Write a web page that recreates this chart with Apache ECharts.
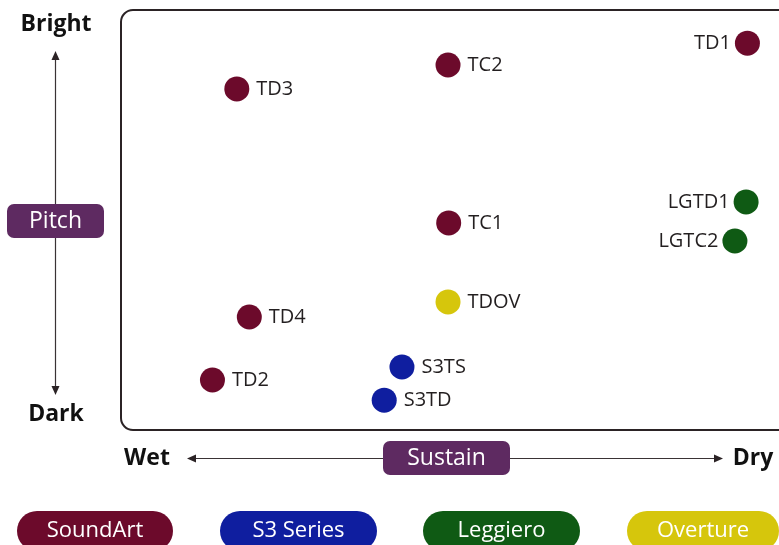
<!DOCTYPE html>
<html><head><meta charset="utf-8">
<script src="https://cdn.jsdelivr.net/npm/echarts@6/dist/echarts.min.js"></script>
<style>html,body{margin:0;padding:0;background:#fff}#c{width:779px;height:545px}</style>
</head><body><div id="c"></div>
<script>
// Brands (series) and colours
const brands = ['SoundArt', 'S3 Series', 'Leggiero', 'Overture'];
const brandColors = ['#6c0a2b', '#0f1e9f', '#0f5a14', '#d6c60c'];
// Models: name, sustain (0 wet .. 100 dry), pitch (0 dark .. 100 bright)
const soundArtNames = ['TD1', 'TC2', 'TD3', 'TC1', 'TD4', 'TD2'];
const soundArtSustain = [95.2, 49.7, 17.6, 49.8, 19.5, 13.9];
const soundArtPitch = [92.1, 86.9, 81.2, 49.3, 26.9, 11.9];
const s3Names = ['S3TS', 'S3TD'];
const s3Sustain = [42.7, 40.0];
const s3Pitch = [15.0, 7.1];
const leggieroNames = ['LGTD1', 'LGTC2'];
const leggieroSustain = [95.0, 93.3];
const leggieroPitch = [54.3, 45.0];
const overtureNames = ['TDOV'];
const overtureSustain = [49.7];
const overturePitch = [30.5];
// labels drawn on the left of the point
const leftLabels = ['TD1', 'LGTD1', 'LGTC2'];
// axis texts
const yTop = 'Bright', yBottom = 'Dark', yTitle = 'Pitch';
const xLeft = 'Wet', xRight = 'Dry', xTitle = 'Sustain';

const groups = [
  [soundArtNames, soundArtSustain, soundArtPitch],
  [s3Names, s3Sustain, s3Pitch],
  [leggieroNames, leggieroSustain, leggieroPitch],
  [overtureNames, overtureSustain, overturePitch]
];
const FONT = '"Open Sans", "Noto Sans", sans-serif';

const series = groups.map((g, i) => ({
  name: brands[i],
  type: 'scatter',
  symbolSize: 25,
  itemStyle: { color: brandColors[i], opacity: 1 },
  label: { show: true, position: 'right', distance: 7, formatter: '{b}', color: '#231f20', fontSize: 20, fontFamily: FONT },
  data: g[0].map((n, k) => {
    const d = { name: n, value: [g[1][k], g[2][k]] };
    if (leftLabels.includes(n)) d.label = { position: 'left', distance: 4 };
    return d;
  })
}));

const chart = echarts.init(document.getElementById('c'));
function pill(x, y, w, h, r, fill, txt, fs) {
  return { type: 'group', x: x, y: y, children: [
    { type: 'rect', shape: { x: 0, y: 0, width: w, height: h, r: r }, style: { fill: fill } },
    { type: 'text', x: w / 2, y: h / 2, style: { text: txt, fill: '#fff', font: fs + 'px ' + FONT, align: 'center', verticalAlign: 'middle' } }
  ]};
}
const boldText = (x, y, t) => ({ type: 'text', x: x, y: y, style: { text: t, fill: '#111', font: 'bold 23px ' + FONT, align: 'center', verticalAlign: 'middle' } });

const graphic = [
  { type: 'rect', z: -1, shape: { x: 121, y: 10, width: 680, height: 420, r: 12 }, style: { fill: 'none', stroke: '#2b2325', lineWidth: 2 } },
  // vertical arrow
  { type: 'line', shape: { x1: 55.5, y1: 56, x2: 55.5, y2: 390 }, style: { stroke: '#3a3335', lineWidth: 1.2 } },
  { type: 'polygon', shape: { points: [[55.5, 51], [51.5, 60], [59.5, 60]] }, style: { fill: '#2b2325' } },
  { type: 'polygon', shape: { points: [[55.5, 395], [51.5, 386], [59.5, 386]] }, style: { fill: '#2b2325' } },
  // horizontal arrow
  { type: 'line', shape: { x1: 192, y1: 458.5, x2: 718, y2: 458.5 }, style: { stroke: '#3a3335', lineWidth: 1.2 } },
  { type: 'polygon', shape: { points: [[187, 458.5], [196, 454.5], [196, 462.5]] }, style: { fill: '#2b2325' } },
  { type: 'polygon', shape: { points: [[723, 458.5], [714, 454.5], [714, 462.5]] }, style: { fill: '#2b2325' } },
  boldText(56, 24, yTop),
  boldText(56, 414, yBottom),
  boldText(147, 458, xLeft),
  boldText(753, 458, xRight),
  pill(7, 204, 97, 34, 7, '#5e2a61', yTitle, 23),
  pill(383, 441, 127, 34, 7, '#5e2a61', xTitle, 23),
  pill(17, 511, 156, 40, 20, brandColors[0], brands[0], 22),
  pill(220, 511, 157, 40, 20, brandColors[1], brands[1], 22),
  pill(423, 511, 157, 40, 20, brandColors[2], brands[2], 22),
  pill(627, 511, 152, 40, 20, brandColors[3], brands[3], 22)
];

chart.setOption({
  animation: false,
  backgroundColor: '#fff',
  grid: { left: 121, top: 10, width: 660, height: 420 },
  xAxis: { type: 'value', min: 0, max: 100, show: false },
  yAxis: { type: 'value', min: 0, max: 100, show: false },
  series: series,
  graphic: graphic
});
</script></body></html>
